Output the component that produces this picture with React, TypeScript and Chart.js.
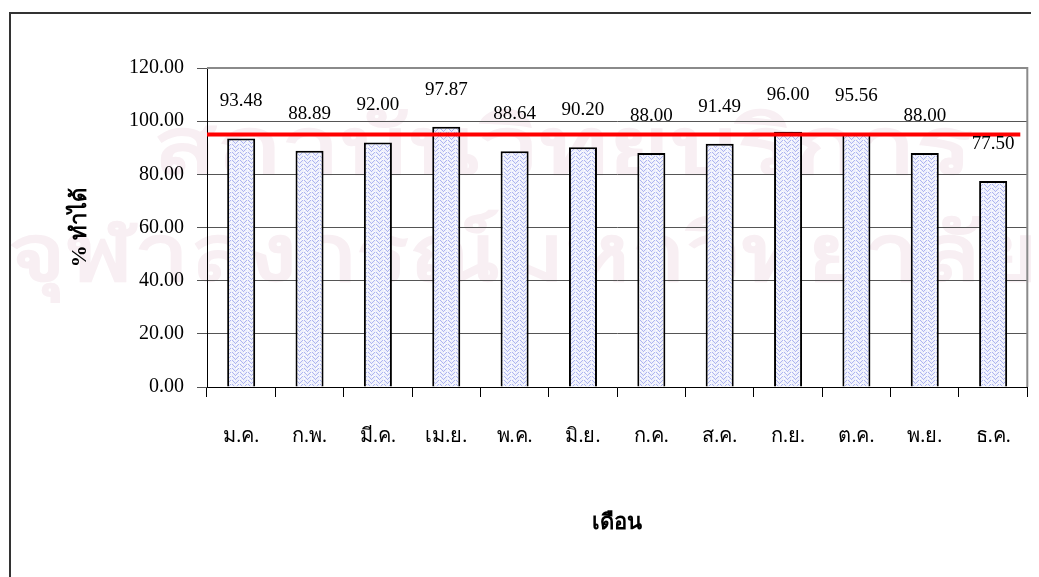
import React, { useEffect, useRef } from "react";
import { Chart, registerables } from "chart.js";

Chart.register(...registerables);

const months = ["ม.ค.", "ก.พ.", "มี.ค.", "เม.ย.", "พ.ค.", "มิ.ย.", "ก.ค.", "ส.ค.", "ก.ย.", "ต.ค.", "พ.ย.", "ธ.ค."];
const achieved = [93.48, 88.89, 92.0, 97.87, 88.64, 90.2, 88.0, 91.49, 96.0, 95.56, 88.0, 77.5];
const target = 95;
const yTicksMax = 120;
const yTicksStep = 20;
const yTitle = "% ทำได้";
const xTitle = "เดือน";
const watermarkLines = ["สถาบันวิทยบริการ", "จุฬาลงกรณ์มหาวิทยาลัย"];

const W = 1031;
const H = 569;
const SERIF = "'Liberation Serif', 'Times New Roman', serif";

function makePattern(): CanvasPattern | string {
  const c = document.createElement("canvas");
  c.width = 8;
  c.height = 8;
  const g = c.getContext("2d");
  if (!g) return "#d3d7f6";
  g.fillStyle = "#eef0fc";
  g.fillRect(0, 0, 8, 8);
  g.fillStyle = "#aeb5f0";
  const pts = [
    [0, 0], [1, 1], [2, 2], [3, 3], [4, 2], [5, 1], [6, 0],
    [0, 4], [1, 5], [2, 6], [3, 7], [4, 6], [5, 5], [6, 4],
  ];
  pts.forEach(([x, y]) => g.fillRect(x, y, 1, 1));
  g.fillStyle = "#ffffff";
  [[4, 0], [0, 2], [7, 5], [2, 4], [6, 7]].forEach(([x, y]) => g.fillRect(x, y, 1, 1));
  return g.createPattern(c, "repeat") || "#d3d7f6";
}

const decorPlugin = {
  id: "decor",
  beforeDraw(chart: any) {
    const ctx = chart.ctx;
    ctx.save();
    ctx.fillStyle = "#ffffff";
    ctx.fillRect(0, 0, chart.width, chart.height);
    // faint watermark
    ctx.fillStyle = "#f8eff3";
    ctx.textAlign = "center";
    ctx.textBaseline = "middle";
    const targets = [
      { cx: 555, cy: 145, w: 820 },
      { cx: 515, cy: 252, w: 1030 },
    ];
    watermarkLines.forEach((t, i) => {
      ctx.save();
      ctx.font = `bold 80px ${SERIF}`;
      const m = ctx.measureText(t).width || 1;
      const sx = targets[i].w / m;
      ctx.translate(targets[i].cx, targets[i].cy);
      ctx.scale(sx, 1);
      ctx.fillText(t, 0, 0);
      ctx.restore();
    });
    // outer frame
    ctx.strokeStyle = "#333333";
    ctx.lineWidth = 2;
    ctx.beginPath();
    ctx.moveTo(2, chart.height + 2);
    ctx.lineTo(2, 5);
    ctx.lineTo(chart.width + 2, 5);
    ctx.stroke();
    ctx.restore();
  },
  afterDatasetsDraw(chart: any) {
    const ctx = chart.ctx;
    const area = chart.chartArea;
    const y = chart.scales.y;
    ctx.save();
    // gray top/right plot border
    ctx.strokeStyle = "#8a8a8a";
    ctx.lineWidth = 2;
    ctx.beginPath();
    ctx.moveTo(area.left, area.top);
    ctx.lineTo(area.right, area.top);
    ctx.lineTo(area.right, area.bottom);
    ctx.stroke();
    // target line
    const ty = y.getPixelForValue(target);
    ctx.strokeStyle = "#ff0000";
    ctx.lineWidth = 4;
    ctx.beginPath();
    ctx.moveTo(area.left, ty);
    ctx.lineTo(area.right - 7, ty);
    ctx.stroke();
    // value labels
    const meta = chart.getDatasetMeta(0);
    ctx.fillStyle = "#000";
    ctx.font = `19px ${SERIF}`;
    ctx.textAlign = "center";
    ctx.textBaseline = "middle";
    meta.data.forEach((bar: any, i: number) => {
      ctx.fillText(achieved[i].toFixed(2), bar.x, bar.y - 37);
    });
    // axis titles
    ctx.font = `bold 22px ${SERIF}`;
    ctx.fillText(xTitle, (area.left + area.right) / 2, 515);
    ctx.save();
    ctx.translate(72, (area.top + area.bottom) / 2);
    ctx.rotate(-Math.PI / 2);
    ctx.fillText(yTitle, 0, 0);
    ctx.restore();
    ctx.restore();
  },
};

export default function App() {
  const ref = useRef<HTMLCanvasElement>(null);

  useEffect(() => {
    if (!ref.current) return;
    const chart = new Chart(ref.current, {
      type: "bar",
      data: {
        labels: months,
        datasets: [
          {
            label: "% ทำได้",
            data: achieved,
            backgroundColor: makePattern() as any,
            borderColor: "#000000",
            borderWidth: 2,
            borderSkipped: "bottom",
            barPercentage: 0.41,
            categoryPercentage: 1,
          },
        ],
      },
      options: {
        responsive: false,
        maintainAspectRatio: false,
        animation: false,
        layout: { padding: { top: 60, right: 9, left: 0, bottom: 0 } },
        plugins: {
          legend: { display: false },
          tooltip: { enabled: false },
          title: { display: false },
        },
        scales: {
          x: {
            offset: true,
            grid: {
              offset: true,
              drawOnChartArea: false,
              drawTicks: true,
              tickLength: 10,
              color: "#000000",
            },
            border: { color: "#000000", width: 1 },
            ticks: {
              color: "#000000",
              font: { family: SERIF, size: 20 },
              padding: 28,
              maxRotation: 0,
              autoSkip: false,
            },
            afterFit: (s: any) => {
              s.height = 190;
            },
          },
          y: {
            min: 0,
            max: yTicksMax,
            grid: {
              color: "#555555",
              tickLength: 10,
              tickColor: "#555555",
            },
            border: { color: "#000000", width: 1 },
            ticks: {
              stepSize: yTicksStep,
              color: "#000000",
              font: { family: SERIF, size: 20 },
              padding: 13,
              callback: (v: any) => Number(v).toFixed(2),
            },
            afterFit: (s: any) => {
              s.width = 199;
            },
          },
        },
      },
      plugins: [decorPlugin],
    });
    return () => chart.destroy();
  }, []);

  return (
    <div style={{ width: W, height: H }}>
      <canvas ref={ref} width={W} height={H} style={{ display: "block", width: W, height: H }} />
    </div>
  );
}
